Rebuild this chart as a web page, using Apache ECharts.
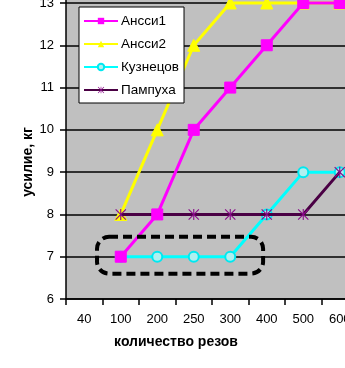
<!DOCTYPE html>
<html><head><meta charset="utf-8">
<script src="https://cdn.jsdelivr.net/npm/echarts@6/dist/echarts.min.js"></script>
<style>html,body{margin:0;padding:0;background:#fff}#c{width:345px;height:368px}</style>
</head><body><div id="c"></div>
<script>
var categories = ['40', '100', '200', '250', '300', '400', '500', '600'];
var seriesNames = ['Ансси1', 'Ансси2', 'Кузнецов', 'Пампуха'];
var ansi1 = [null, 7, 8, 10, 11, 12, 13, 13];
var ansi2 = [null, 8, 10, 12, 13, 13, 13, 13];
var kuznetsov = [null, 7, 7, 7, 7, 8, 9, 9];
var pampukha = [null, 8, 8, 8, 8, 8, 8, 9];
var yTicks = [6, 7, 8, 9, 10, 11, 12, 13, 14];
var yTitle = 'усилие, кг';
var xTitle = 'количество резов';

var FONT = 'Liberation Sans, Arial, sans-serif';
var star = 'path://M4.5 0 L5.5 0 L5.5 10 L4.5 10 Z M0 0.7 L0.7 0 L10 9.3 L9.3 10 Z M9.3 0 L10 0.7 L0.7 10 L0 9.3 Z';

var chart = echarts.init(document.getElementById('c'), null, {renderer: 'canvas'});
var option = {
  animation: false,
  backgroundColor: '#ffffff',
  grid: {left: 66, right: -13, top: -39.3, bottom: 69, show: true, backgroundColor: '#c0c0c0', borderWidth: 0,
         containLabel: false, outerBoundsMode: 'none'},
  legend: {
    orient: 'vertical', left: 79, top: 7,
    data: seriesNames,
    backgroundColor: '#ffffff', borderColor: '#000', borderWidth: 1,
    padding: [7, 5, 6, 4], itemGap: 9, itemWidth: 34, itemHeight: 8,
    textStyle: {fontFamily: FONT, fontSize: 13.5, color: '#000', padding: [0, 0, 0, -2]}
  },
  xAxis: {
    type: 'category', data: categories, boundaryGap: true,
    axisLine: {lineStyle: {color: '#000', width: 1.5}},
    axisTick: {show: true, length: 6, lineStyle: {color: '#000', width: 1.5}},
    axisLabel: {fontFamily: FONT, fontSize: 13, color: '#000', margin: 14},
    splitLine: {show: false}
  },
  yAxis: {
    type: 'value', min: yTicks[0], max: yTicks[yTicks.length - 1], interval: 1,
    axisLine: {show: true, lineStyle: {color: '#000', width: 1.5}},
    axisTick: {show: true, length: 6, lineStyle: {color: '#000', width: 1.5}},
    axisLabel: {fontFamily: FONT, fontSize: 13, color: '#000', margin: 12},
    splitLine: {show: true, lineStyle: {color: '#000', width: 1.5}}
  },
  series: [
    {name: seriesNames[0], type: 'line', data: ansi1, z: 5, symbol: 'rect', symbolSize: 11,
     lineStyle: {color: '#ff00ff', width: 3}, itemStyle: {color: '#ff00ff', borderColor: '#ff00ff'}},
    {name: seriesNames[1], type: 'line', data: ansi2, z: 2, symbol: 'triangle', symbolSize: 12,
     lineStyle: {color: '#ffff00', width: 3}, itemStyle: {color: '#ffff00', borderColor: '#ffff00'}},
    {name: seriesNames[2], type: 'line', data: kuznetsov, z: 3, symbol: 'circle', symbolSize: 10,
     lineStyle: {color: '#00ffff', width: 3}, itemStyle: {color: '#b0f0f0', borderColor: '#00e8f0', borderWidth: 2}},
    {name: seriesNames[3], type: 'line', data: pampukha, z: 4, symbol: star, symbolSize: 11,
     lineStyle: {color: '#4a0044', width: 3}, itemStyle: {color: '#8a0a8a', borderWidth: 0}}
  ]
};
chart.setOption(option);

function buildGraphics() {
  var p1 = chart.convertToPixel({xAxisIndex: 0, yAxisIndex: 0}, [1, 7.47]);
  var p5 = chart.convertToPixel({xAxisIndex: 0, yAxisIndex: 0}, [5, 6.6]);
  var band = (p5[0] - p1[0]) / 4;
  var left = p1[0] - 0.65 * band;
  var right = p5[0] - 0.1 * band;
  var yAxisBottom = chart.convertToPixel({yAxisIndex: 0}, yTicks[0]);
  chart.setOption({
    graphic: [
      {type: 'rect', z: 100, shape: {x: left, y: p1[1], width: right - left, height: p5[1] - p1[1], r: 12},
       style: {fill: 'none', stroke: '#000', lineWidth: 4, lineDash: [9, 5]}},
      {type: 'text', z: 100, x: 28, y: 162, rotation: Math.PI / 2,
       style: {text: yTitle, fontFamily: FONT, fontSize: 14, fontWeight: 'bold', fill: '#000', align: 'center', verticalAlign: 'middle'}},
      {type: 'text', z: 100, x: 176, y: yAxisBottom + 43,
       style: {text: xTitle, fontFamily: FONT, fontSize: 14, fontWeight: 'bold', fill: '#000', align: 'center', verticalAlign: 'middle'}}
    ]
  });
}
buildGraphics();
</script>
</body></html>
